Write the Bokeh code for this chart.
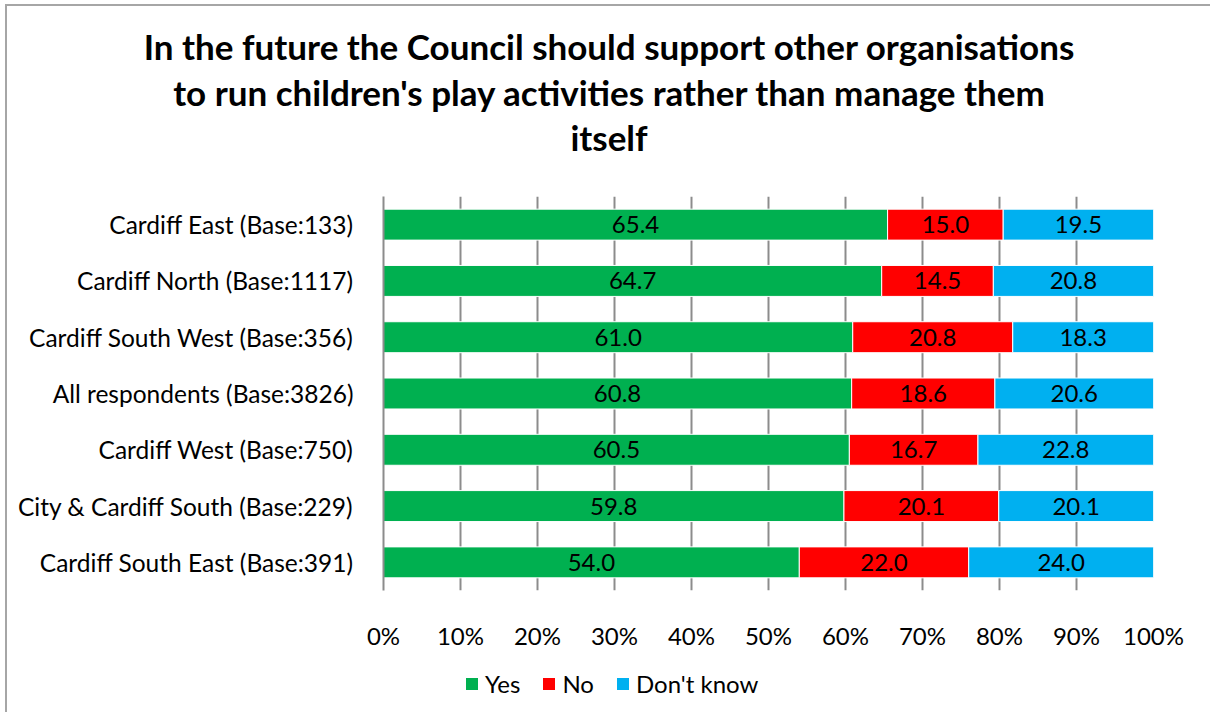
from bokeh.plotting import figure
from bokeh.models import (ColumnDataSource, FactorRange, Range1d, FixedTicker,
                          PrintfTickFormatter, LabelSet, Div)
from bokeh.layouts import column
from bokeh.core.properties import value
from bokeh.embed import file_html
from bokeh.resources import INLINE

categories = [
    "Cardiff East (Base:133)",
    "Cardiff North (Base:1117)",
    "Cardiff South West (Base:356)",
    "All respondents (Base:3826)",
    "Cardiff West (Base:750)",
    "City & Cardiff South (Base:229)",
    "Cardiff South East (Base:391)",
]
yes = [65.4, 64.7, 61.0, 60.8, 60.5, 59.8, 54.0]
no = [15.0, 14.5, 20.8, 18.6, 16.7, 20.1, 22.0]
dont_know = [19.5, 20.8, 18.3, 20.6, 22.8, 20.1, 24.0]
series_names = ["Yes", "No", "Don't know"]
colors = ["#00B050", "#FF0000", "#00B0F0"]
x_ticks = [0, 10, 20, 30, 40, 50, 60, 70, 80, 90, 100]
title_lines = [
    "In the future the Council should support other organisations",
    "to run children's play activities rather than manage them",
    "itself",
]

FONT = "Lato"
FS = "24px"
W = 1203

series = [yes, no, dont_know]
totals = [sum(v) for v in zip(*series)]
data = {"cat": categories}
cum = [0.0] * len(categories)
for i, s in enumerate(series):
    left = list(cum)
    right = [c + v / t * 100.0 for c, v, t in zip(cum, s, totals)]
    data[f"l{i}"] = left
    data[f"r{i}"] = right
    data[f"m{i}"] = [(a + b) / 2 for a, b in zip(left, right)]
    data[f"t{i}"] = [f"{v:.1f}" for v in s]
    cum = right
source = ColumnDataSource(data)

title_html = (
    f'<div style="width:{W}px;box-sizing:border-box;padding-left:1px;padding-top:18px;'
    'text-align:center;font-family:Lato;font-weight:bold;font-size:35px;'
    'line-height:45.5px;color:#000000;">'
    + "<br>".join(t.replace("'", "&#39;") for t in title_lines)
    + "</div>"
)
title_div = Div(text=title_html, width=W, height=184, margin=0)

p = figure(width=W, height=462,
           y_range=FactorRange(*reversed(categories)),
           x_range=Range1d(0, 100),
           output_backend="svg", toolbar_location=None,
           min_border_left=376, min_border_right=W - 376 - 770,
           min_border_bottom=60, min_border_top=6,
           outline_line_color=None, margin=0)

for i, name in enumerate(series_names):
    p.hbar(y="cat", left=f"l{i}", right=f"r{i}", height=0.55,
           fill_color=colors[i], line_color="white", line_width=1,
           source=source)
    p.add_layout(LabelSet(x=f"m{i}", y="cat", text=f"t{i}", source=source,
                          text_align="center", text_baseline="middle",
                          text_font=value(FONT), text_font_size=FS,
                          text_color="#000000"))

p.xaxis.ticker = FixedTicker(ticks=x_ticks)
p.xaxis.formatter = PrintfTickFormatter(format="%d%%")
p.xaxis.axis_line_color = None
p.xaxis.major_tick_line_color = None
p.xaxis.minor_tick_line_color = None
p.xaxis.major_label_standoff = 24
p.xaxis.major_label_text_font = FONT
p.xaxis.major_label_text_font_size = FS
p.xaxis.major_label_text_color = "#000000"

p.yaxis.axis_line_color = "#8c8c8c"
p.yaxis.axis_line_width = 2
p.yaxis.major_tick_line_color = None
p.yaxis.minor_tick_line_color = None
p.yaxis.major_label_standoff = 24
p.yaxis.major_label_text_font = FONT
p.yaxis.major_label_text_font_size = "24.5px"
p.yaxis.major_label_text_color = "#000000"

p.ygrid.grid_line_color = None
p.xgrid.grid_line_color = "#8c8c8c"
p.xgrid.grid_line_width = 2

# legend (swatches in the series colours, labels from series_names)
items_html = ""
for k, (n, c) in enumerate(zip(series_names, colors)):
    gap = "23px" if k < len(series_names) - 1 else "0px"
    items_html += (
        f'<span style="display:inline-block;width:12px;height:12px;background:{c};'
        f'margin-right:7px;flex:none;"></span>'
        f'<span style="margin-right:{gap};white-space:nowrap;">{n.replace(chr(39), "&#39;")}</span>'
    )
legend_html = (
    f'<div style="position:relative;width:{W}px;height:60px;font-family:Lato;'
    'font-size:24px;color:#000000;">'
    '<div style="position:absolute;left:459px;top:20px;height:24px;line-height:24px;'
    'display:flex;align-items:center;white-space:nowrap;">'
    + items_html + "</div></div>"
)
legend_div = Div(text=legend_html, width=W, height=60, margin=0)

layout = column(title_div, p, legend_div, spacing=0,
                styles={"margin-left": "5px", "margin-top": "4px",
                        "border-left": "2px solid #a6a6a6",
                        "border-top": "2px solid #a6a6a6"})

open("out.html", "w").write(file_html(layout, INLINE))
